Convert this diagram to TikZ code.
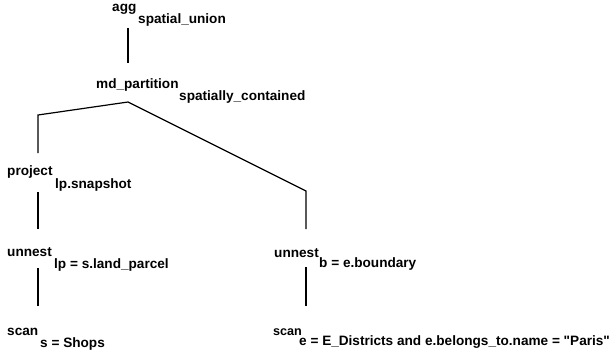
\documentclass[tikz,border=0pt]{standalone}
\usepackage{fontspec}
\setmainfont{Liberation Sans}[Ligatures=TeXOff]
\begin{document}
\begin{tikzpicture}[x=1pt,y=-1pt,
  op/.style  = {anchor=base west, inner sep=0pt, font=\bfseries\fontsize{13.6}{15}\selectfont},
  arg/.style = {op},
  edge/.style = {line width=1.2pt, line join=miter}]
\useasboundingbox (0,0) rectangle (616,354);
%%
%% operators and their arguments
\node [op]  (agg)    at (112,11)  {agg};
\node [arg] (aggA)   at (138,23)  {spatial\_union};
\node [op]  (md)     at (96,88)   {md\_partition};
\node [arg] (mdA)    at (179,100) {spatially\_contained};
\node [op]  (proj)   at (7,175)   {project};
\node [arg] (projA)  at (55,188)  {lp.snapshot};
\node [op]  (unL)    at (7,256)   {unnest};
\node [arg] (unLA)   at (54,268)  {lp = s.land\_parcel};
\node [op]  (scanL)  at (7,335)   {scan};
\node [arg] (scanLA) at (40,347)  {s = Shops};
\node [op]  (unR)    at (274,257) {unnest};
\node [arg] (unRA)   at (319,267) {b = e.boundary};
\node [op, font=\bfseries\fontsize{12.6}{14}\selectfont] (scanR) at (273,335) {scan};
\node [arg] (scanRA) at (299,345) {e = E\_Districts and e.belongs\_to.name = "Paris"};
%%
%% attachment points
\coordinate (agg-s)   at (128,28);
\coordinate (md-n)    at (128,63);
\coordinate (md-s)    at (128,102);
\coordinate (kneeL)   at (38,115);
\coordinate (proj-n)  at (38,153);
\coordinate (kneeR)   at (306,191);
\coordinate (unR-n)   at (306,229);
\coordinate (proj-s)  at (38,192);
\coordinate (unL-n)   at (38,229);
\coordinate (unL-s)   at (38,268);
\coordinate (scanL-n) at (38,306);
\coordinate (unR-s)   at (306,267);
\coordinate (scanR-n) at (306,306);
%%
%% tree edges
\draw [edge] (agg-s) -- (md-n);
\draw [edge] (proj-n) -- (kneeL) -- (md-s) -- (kneeR) -- (unR-n);
\draw [edge] (proj-s) -- (unL-n);
\draw [edge] (unL-s) -- (scanL-n);
\draw [edge] (unR-s) -- (scanR-n);
\end{tikzpicture}
\end{document}
